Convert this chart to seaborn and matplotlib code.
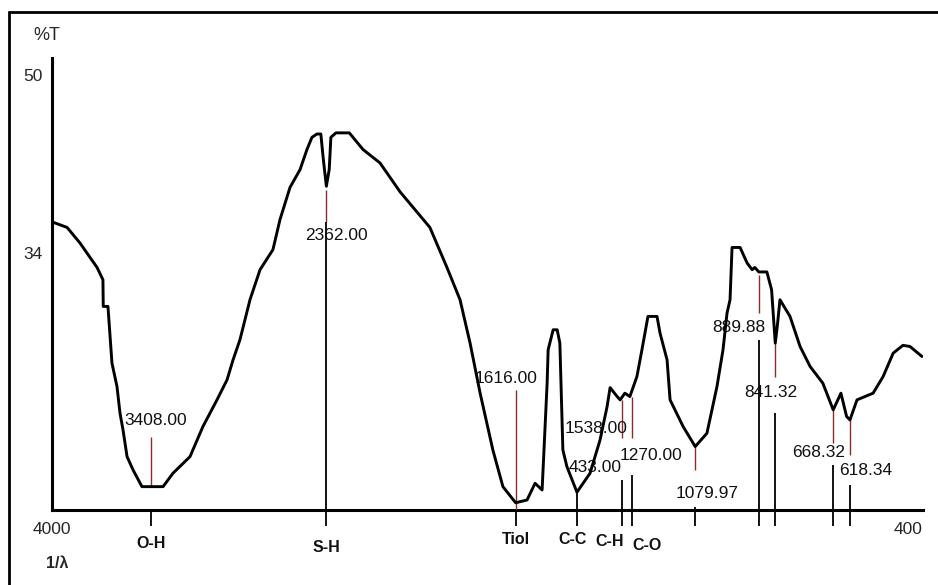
import numpy as np
import matplotlib
matplotlib.use("Agg")
import matplotlib.pyplot as plt
from matplotlib.lines import Line2D
import seaborn as sns

# ---------------- data ----------------
wavenumber = [4000, 3910, 3833, 3731, 3696, 3694, 3666, 3642, 3612, 3594, 3576, 3552,
              3516, 3463, 3408, 3337, 3278, 3176, 3099, 3015, 2955, 2919, 2878, 2818,
              2758, 2681, 2639, 2579, 2519, 2478, 2448, 2418, 2395, 2380, 2362, 2345,
              2335, 2305, 2225, 2143, 2042, 1961, 1872, 1821, 1782, 1752, 1722, 1684,
              1654, 1616, 1582, 1558, 1537, 1522, 1519, 1504, 1492, 1484, 1475, 1463,
              1433, 1394, 1364, 1343, 1334, 1313, 1304, 1290, 1275, 1254, 1239, 1221,
              1194, 1185, 1164, 1155, 1116, 1080, 1045, 1015, 997, 985, 976, 970,
              946, 925, 910, 902, 890, 866, 852, 841, 835, 827, 797, 767, 737, 699,
              668, 645, 628, 618, 597, 549, 519, 489, 460, 439, 403]
transmittance = [36.8, 36.3, 34.9, 32.7, 31.6, 29.2, 29.2, 24.1, 22.0, 19.6, 18.1, 15.7,
                 14.5, 13.0, 13.0, 13.0, 14.2, 15.7, 18.4, 20.8, 22.6, 24.4, 26.2, 29.8,
                 32.5, 34.3, 37.0, 39.9, 41.5, 43.3, 44.4, 44.7, 44.7, 42.4, 40.0, 41.5,
                 44.4, 44.8, 44.8, 43.3, 42.1, 39.5, 36.3, 32.7, 29.8, 25.9, 21.4, 16.3,
                 13.0, 11.55, 11.8, 13.3, 12.7, 22.3, 25.3, 27.1, 27.1, 25.9, 16.3, 14.8,
                 12.5, 14.2, 17.2, 20.2, 21.9, 21.1, 20.8, 21.4, 21.1, 22.9, 25.3, 28.3,
                 28.3, 26.8, 24.4, 20.8, 18.4, 16.6, 17.8, 22.0, 25.3, 28.6, 29.8, 34.5,
                 34.5, 33.1, 32.5, 32.7, 32.3, 32.3, 30.7, 25.9, 27.4, 29.8, 28.3, 25.6,
                 23.8, 22.3, 19.9, 21.4, 19.3, 19.0, 20.8, 21.4, 22.9, 25.0, 25.7, 25.6,
                 24.7]

# peak marker lines
peak_wn = [3408.00, 2362.00, 1616.00, 1433.00, 1300.0, 1270.00, 1079.97, 889.88, 841.32, 668.32, 618.34]
red_top = [17.46, 39.66, 21.68, None, 20.78, 21.05, 16.56, 32.02, 25.91, 19.89, 18.99]
red_bottom = [12.96, 36.79, 10.9, None, 17.37, 17.37, 14.49, 28.60, 22.85, 16.92, 15.84]
black_top = [None, 36.79, None, 12.42, 13.60, 14.04, 11.17, 26.18, 19.62, 14.94, 13.14]

# peak value labels
label_text = ['3408.00', '2362.00', '1616.00', '433.00', '1538.00', '1270.00',
              '1079.97', '889.88', '841.32', '668.32', '618.34']
label_wn = [3380, 2300, 1645, 1379, 1376, 1212, 1045, 949, 854, 713, 570]
label_T = [18.99, 35.6, 22.76, 14.76, 18.27, 15.84, 12.42, 27.26, 21.5, 16.11, 14.49]

# functional-group labels under the axis
group_labels = ['O-H', 'S-H', 'Tiol', 'C-C', 'C-H', 'C-O']
group_wn = [3408, 2362, 1616, 1445, 1334, 1224]
group_dy = [33, 37, 30, 30, 31, 35]  # pixels below axis

y_ticks = [50, 34]
x_ticks = [4000, 400]

# ---------------- style ----------------
sns.set_theme(style="white")
FAM = ['Liberation Sans', 'DejaVu Sans']
FS = 12.5
FSB = 11.5
plt.rcParams['font.family'] = FAM

fig = plt.figure(figsize=(9.38, 5.85), dpi=100)
fig.patch.set_facecolor('white')
ax = fig.add_axes([52 / 938, 75 / 585, 871 / 938, 452 / 585])
ax.set_facecolor('white')


def fwd(w):
    w = np.asarray(w, dtype=float)
    return np.where(w <= 2000, w, 2000 + (w - 2000) * 0.5)


def inv(p):
    p = np.asarray(p, dtype=float)
    return np.where(p <= 2000, p, 2000 + (p - 2000) * 2.0)


ax.set_xscale('function', functions=(fwd, inv))

sns.lineplot(x=wavenumber, y=transmittance, sort=False, estimator=None,
             color='black', lw=2.1, ax=ax, zorder=5)

ax.set_xlim(4000, 400)
ax.set_ylim(10.9, 51.53)

for s in ['top', 'right']:
    ax.spines[s].set_visible(False)
for s in ['left', 'bottom']:
    ax.spines[s].set_color('black')
    ax.spines[s].set_linewidth(2.2)

ax.set_yticks(y_ticks)
ax.set_yticklabels([str(v) for v in y_ticks], fontsize=FS)
ax.set_xticks(x_ticks)
ax.set_xticklabels([str(v) for v in x_ticks], fontsize=FS)
ax.xaxis.set_minor_locator(matplotlib.ticker.NullLocator())
ax.tick_params(axis='both', length=0)
ax.tick_params(axis='y', pad=7)
ax.tick_params(axis='x', pad=9)
xl = ax.get_xticklabels()
xl[0].set_ha('center')
xl[1].set_ha('right')
ax.set_xlabel('')
ax.set_ylabel('')
ax.grid(False)

RED = '#8a2a2a'
for w, rt, rb, bt in zip(peak_wn, red_top, red_bottom, black_top):
    if rt is not None:
        ax.vlines(w, rb, rt, colors=RED, lw=1.0, zorder=3)
    if bt is not None:
        ax.vlines(w, 10.9, bt, colors='black', lw=1.3, zorder=3)
    ax.vlines(w, 9.46, 10.9, colors='black', lw=1.3, zorder=3, clip_on=False)

for t, w, T in zip(label_text, label_wn, label_T):
    ax.text(w, T, t, ha='center', va='center', fontsize=FS, color='#111111', zorder=4)

for t, w, dy in zip(group_labels, group_wn, group_dy):
    ax.annotate(t, xy=(w, 0), xycoords=('data', 'axes fraction'),
                xytext=(0, -dy), textcoords='offset pixels',
                ha='center', va='center', fontsize=FSB, fontweight='bold',
                color='#111111', annotation_clip=False)

fig.text(47 / 938, 1 - 35 / 585, '%T', ha='center', va='center', fontsize=13)
fig.text(57 / 938, 1 - 564 / 585, '1/λ', ha='center', va='center', fontsize=FSB,
         fontweight='bold')

# outer frame (top and left edges visible in the reference)
fig.add_artist(Line2D([9 / 938, 1.0], [1 - 12 / 585, 1 - 12 / 585], color='black', lw=2.0,
                      transform=fig.transFigure))
fig.add_artist(Line2D([9 / 938, 9 / 938], [0.0, 1 - 12 / 585], color='black', lw=2.0,
                      transform=fig.transFigure))

fig.savefig('out.png', dpi=100, facecolor='white')
